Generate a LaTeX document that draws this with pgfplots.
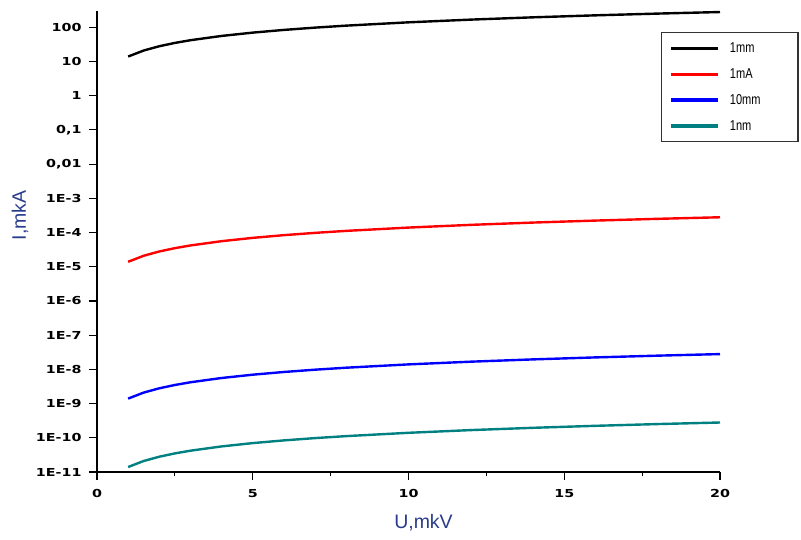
\documentclass[border=0pt]{standalone}
\usepackage{fontspec}
\setmainfont{Liberation Sans}
\newfontfamily\tickfont{DejaVu Sans}
\usepackage{graphicx}
\usepackage{pgfplots}
\pgfplotsset{compat=1.18}
\definecolor{labblue}{RGB}{40,60,140}
\definecolor{tealc}{RGB}{0,128,128}
\newcommand{\tl}[1]{\scalebox{1.3}[1]{\tickfont\bfseries #1}}
\newcommand{\lt}[1]{\hspace{8bp}\makebox[58bp][l]{\scalebox{0.85}[1.1]{#1}}}
\begin{document}
\begin{tikzpicture}
\path[use as bounding box] (-97bp,-68bp) rectangle (704bp,472bp);
\begin{axis}[
  at={(0,0)}, anchor=south west,
  scale only axis, width=623bp, height=461bp,
  xmin=0, xmax=20, ymode=log, ymin=1e-11, ymax=300,
  axis lines=left, axis line style={-, line width=1.3bp},
  xtick={0,5,10,15,20},
  xticklabels={\tl{0},\tl{5},\tl{10},\tl{15},\tl{20}},
  minor x tick num=1,
  ytick={1e2,1e1,1,1e-1,1e-2,1e-3,1e-4,1e-5,1e-6,1e-7,1e-8,1e-9,1e-10,1e-11},
  yticklabels={\tl{100},\tl{10},\tl{1},\tl{0,1},\tl{0,01},\tl{1E-3},\tl{1E-4},\tl{1E-5},\tl{1E-6},\tl{1E-7},\tl{1E-8},\tl{1E-9},\tl{1E-10},\tl{1E-11}},
  tick align=outside, major tick length=8bp, minor tick length=4bp,
  tick style={line width=1.1bp, black},
  every tick label/.append style={font=\fontsize{11bp}{12bp}\selectfont},
  yticklabel style={xshift=-4bp},
  xticklabel style={yshift=-6bp},
  xlabel={U,mkV}, ylabel={I,mkA},
  label style={font=\fontsize{19.5bp}{21bp}\selectfont, text=labblue},
  xlabel style={at={(axis description cs:0.5,0)}, anchor=center, yshift=-51bp, xshift=15bp},
  ylabel style={at={(axis description cs:0,0.557)}, anchor=center, rotate=0, yshift=77bp},
  legend style={at={(rel axis cs:0.9053,0.9544)}, anchor=north west,
    draw=black!80, line width=1.4bp, font=\fontsize{13bp}{14bp}\selectfont,
    row sep=10.5bp, inner xsep=8bp, inner ysep=8bp},
  legend cell align=left,
  legend image code/.code={\draw[#1, line width=3.2bp] (0bp,0bp) -- (47bp,0bp);},
  every axis plot/.append style={line width=2.4bp},
]
\addplot[black] coordinates {(1,14)(1.5,21)(2,28)(2.5,35)(3,42)(4,56)(5,70)(6,84)(7,98)(8,112)(10,140)(12,168)(14,196)(16,224)(18,252)(20,280)};
\addlegendentry{\lt{1mm}}
\addplot[red] coordinates {(1,1.4e-5)(1.5,2.1e-5)(2,2.8e-5)(2.5,3.5e-5)(3,4.2e-5)(4,5.6e-5)(5,7.0e-5)(6,8.4e-5)(7,9.8e-5)(8,1.12e-4)(10,1.4e-4)(12,1.68e-4)(14,1.96e-4)(16,2.24e-4)(18,2.52e-4)(20,2.8e-4)};
\addlegendentry{\lt{1mA}}
\addplot[blue] coordinates {(1,1.4e-9)(1.5,2.1e-9)(2,2.8e-9)(2.5,3.5e-9)(3,4.2e-9)(4,5.6e-9)(5,7.0e-9)(6,8.4e-9)(7,9.8e-9)(8,1.12e-8)(10,1.4e-8)(12,1.68e-8)(14,1.96e-8)(16,2.24e-8)(18,2.52e-8)(20,2.8e-8)};
\addlegendentry{\lt{10mm}}
\addplot[tealc] coordinates {(1,1.4e-11)(1.5,2.1e-11)(2,2.8e-11)(2.5,3.5e-11)(3,4.2e-11)(4,5.6e-11)(5,7.0e-11)(6,8.4e-11)(7,9.8e-11)(8,1.12e-10)(10,1.4e-10)(12,1.68e-10)(14,1.96e-10)(16,2.24e-10)(18,2.52e-10)(20,2.8e-10)};
\addlegendentry{\lt{1nm}}
\end{axis}
\end{tikzpicture}
\end{document}
